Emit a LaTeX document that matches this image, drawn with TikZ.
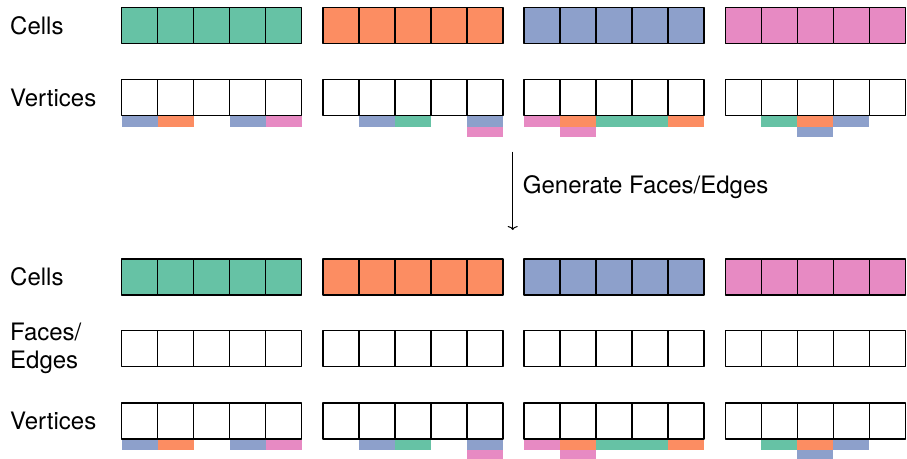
\documentclass[tikz,border=0pt]{standalone}
\usepackage{fontspec}
\setmainfont{TeX Gyre Heros}
\usetikzlibrary{arrows.meta}
\definecolor{setgreen}{HTML}{66C2A5}
\definecolor{setorange}{HTML}{FC8D62}
\definecolor{setblue}{HTML}{8DA0CB}
\definecolor{setpink}{HTML}{E78AC3}
\begin{document}
\begin{tikzpicture}[x=1pt,y=-1pt,
  cellbox/.style={draw=black, line width=1.8pt, line join=round,
    minimum width=36pt, minimum height=36pt, inner sep=0pt, outer sep=0pt,
    anchor=north west},
  barbox/.style={fill=#1, minimum width=36pt, minimum height=10.5pt,
    inner sep=0pt, outer sep=0pt, anchor=north},
  rowlabel/.style={anchor=west, inner sep=0pt, align=left,
    font=\fontsize{24}{28}\selectfont}]

\useasboundingbox (0,0) rectangle (907,458);
\clip (0,0) rectangle (907,458);

% row labels
\node[rowlabel] (lcellsA) at (10,25.5) {Cells};
\node[rowlabel] (lvertA)  at (10,97.5) {Vertices};
\node[rowlabel] (lcellsB) at (10,277)  {Cells};
\node[rowlabel] (lfaces)  at (10,348.5) {Faces/\\Edges};
\node[rowlabel] (lvertB)  at (10,421)  {Vertices};

% four partitions, five entries each
\foreach \g/\col in {0/setgreen,1/setorange,2/setblue,3/setpink}{
  \foreach \k in {0,...,4}{
    \pgfmathsetmacro{\xx}{121.5+201.3*\g+36*\k}
    \node[cellbox, fill=\col] (ca-\g-\k) at (\xx,7.5)   {};
    \node[cellbox]            (va-\g-\k) at (\xx,79.5)  {};
    \node[cellbox, fill=\col] (cb-\g-\k) at (\xx,259)   {};
    \node[cellbox]            (fb-\g-\k) at (\xx,330.5) {};
    \node[cellbox]            (vb-\g-\k) at (\xx,403)   {};
  }
}

% ownership markers under the vertex entries (first and second level)
\foreach \row in {va,vb}{
  \foreach \g/\k/\col/\lvl in {
      0/0/setblue/0, 0/1/setorange/0, 0/3/setblue/0, 0/4/setpink/0,
      1/1/setblue/0, 1/2/setgreen/0, 1/4/setblue/0, 1/4/setpink/1,
      2/0/setpink/0, 2/1/setorange/0, 2/1/setpink/1, 2/2/setgreen/0,
      2/3/setgreen/0, 2/4/setorange/0,
      3/1/setgreen/0, 3/2/setorange/0, 3/2/setblue/1, 3/3/setblue/0}{
    \node[barbox=\col] (m-\row-\g-\k-\lvl)
      at ([yshift={-0.9pt-10.5pt*\lvl}]\row-\g-\k.south) {};
  }
}

% generation step
\coordinate (arrtop) at (512.7,151.7);
\coordinate (arrbot) at (512.7,230);
\draw[line width=1pt, -{To[length=4pt,width=10pt]}] (arrtop) -- (arrbot);
\node[anchor=west, inner sep=0pt, font=\fontsize{24}{28}\selectfont]
  (genlabel) at (522.7,187) {Generate Faces/Edges};

\end{tikzpicture}
\end{document}
